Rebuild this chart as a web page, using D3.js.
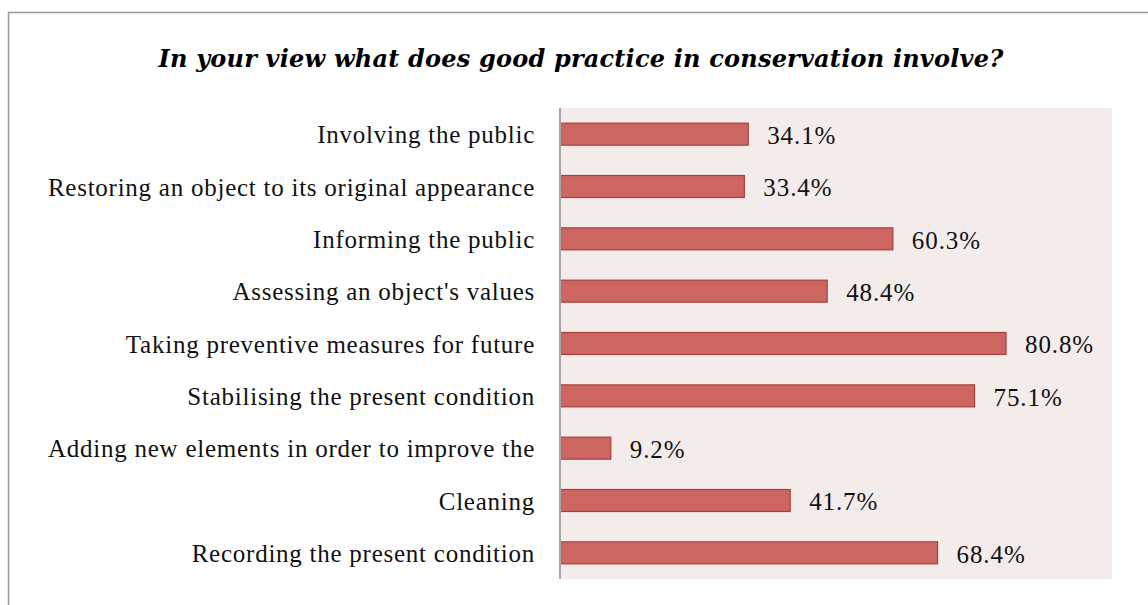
<!DOCTYPE html>
<html>
<head>
<meta charset="utf-8">
<script src="https://cdn.jsdelivr.net/npm/d3@7"></script>
<style>
  html, body { margin: 0; padding: 0; background: #fff; }
  svg { display: block; }
</style>
</head>
<body>
<svg id="chart" width="1148" height="605"></svg>
<script>
// Survey answers, listed top to bottom
const categories = [
  "Involving the public",
  "Restoring an object to its original appearance",
  "Informing the public",
  "Assessing an object's values",
  "Taking preventive measures for future",
  "Stabilising the present condition",
  "Adding new elements in order to improve the",
  "Cleaning",
  "Recording the present condition"
];
const values = [34.1, 33.4, 60.3, 48.4, 80.8, 75.1, 9.2, 41.7, 68.4];
const titleText = "In your view what does good practice in conservation involve?";

const svg = d3.select("#chart");
const W = 1148, H = 605;
const plot = { left: 560, right: 1112, top: 108, bottom: 579 };
const serif = "'Liberation Serif', 'DejaVu Serif', serif";

// chart frame
svg.append("rect")
  .attr("x", 8.5).attr("y", 12.5)
  .attr("width", W + 20).attr("height", H + 20)
  .attr("fill", "#fff")
  .attr("stroke", "#999").attr("stroke-width", 1.5);

// title
svg.append("text")
  .attr("x", 581).attr("y", 67)
  .attr("text-anchor", "middle")
  .attr("font-family", "'DejaVu Serif', serif")
  .attr("font-weight", "bold")
  .attr("font-style", "italic")
  .attr("font-size", 24)
  .attr("letter-spacing", 0.2)
  .attr("fill", "#000")
  .text(titleText);

// plot background
svg.append("rect")
  .attr("x", plot.left).attr("y", plot.top)
  .attr("width", plot.right - plot.left)
  .attr("height", plot.bottom - plot.top)
  .attr("fill", "#f4ecea");

const x = d3.scaleLinear().domain([0, 100]).range([plot.left, plot.right]);
const y = d3.scaleBand().domain(categories).range([plot.top, plot.bottom]).paddingInner(0.58).paddingOuter(0.29);

const data = categories.map((c, i) => ({ c, v: values[i] }));

// bars
svg.append("g").selectAll("rect")
  .data(data)
  .join("rect")
  .attr("x", x(0))
  .attr("y", d => y(d.c))
  .attr("width", d => x(d.v) - x(0))
  .attr("height", y.bandwidth())
  .attr("fill", "#cd6560")
  .attr("stroke", "#a8403c")
  .attr("stroke-width", 1.2);

// value labels
svg.append("g").selectAll("text")
  .data(data)
  .join("text")
  .attr("x", d => x(d.v) + 19)
  .attr("y", d => y(d.c) + y.bandwidth() / 2 + 1)
  .attr("dy", "0.35em")
  .attr("font-family", serif)
  .attr("font-size", 25)
  .attr("letter-spacing", 0.9)
  .attr("fill", "#111")
  .text(d => d.v.toFixed(1) + "%");

// category axis
const yAxis = d3.axisLeft(y).tickSize(0).tickPadding(25);
const ag = svg.append("g")
  .attr("transform", `translate(${plot.left},0)`)
  .call(yAxis);
ag.select(".domain")
  .attr("d", `M0,${plot.top}V${plot.bottom}`)
  .attr("stroke", "#a6a6a6").attr("stroke-width", 2);
ag.selectAll(".tick text")
  .attr("y", 1)
  .attr("font-family", serif)
  .attr("font-size", 25)
  .attr("letter-spacing", 0.75)
  .attr("fill", "#111");
</script>
</body>
</html>
